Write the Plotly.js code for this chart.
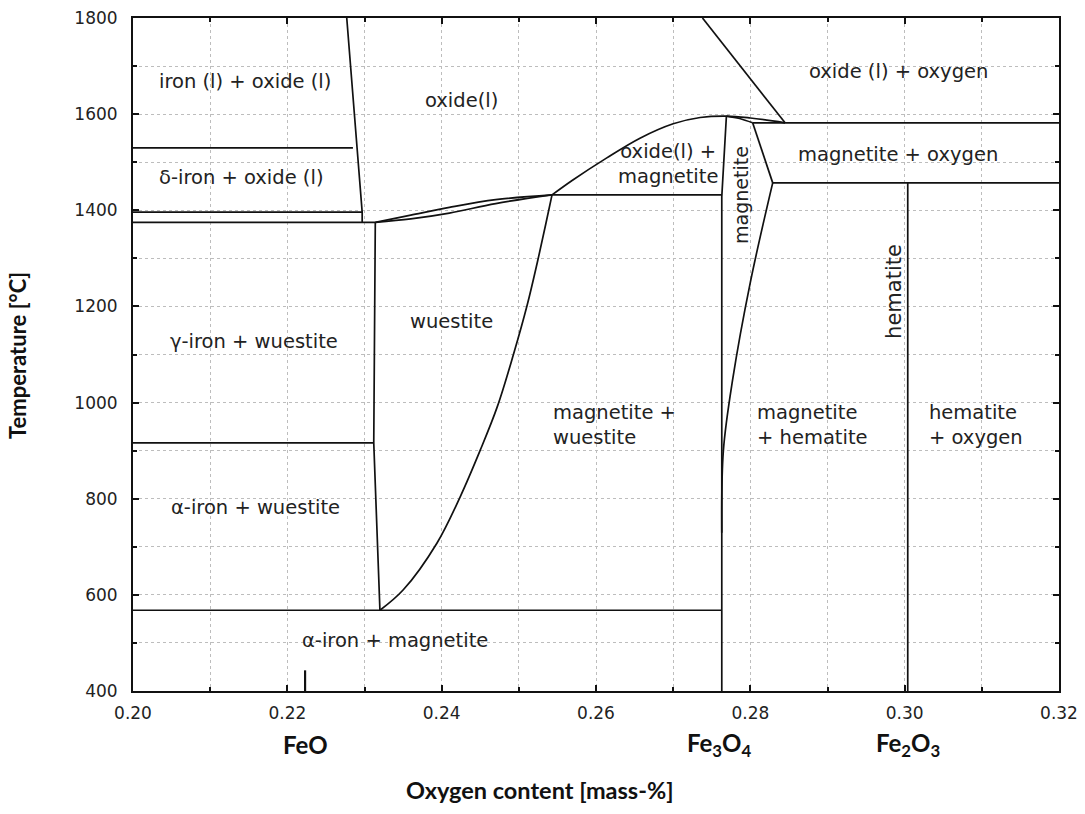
<!DOCTYPE html>
<html>
<head>
<meta charset="utf-8">
<script src="https://cdn.plot.ly/plotly-3.0.1.min.js"></script>
<style>html,body{margin:0;padding:0;background:#fff;}#chart{width:1085px;height:814px;}</style>
</head>
<body>
<div id="chart"></div>
<script>
// ---- Phase boundary data (oxygen mass fraction, temperature °C) ----
const liqLeftX = [0.2277, 0.2297, 0.2297];
const liqLeftT = [1800, 1396, 1375];
const h1530X = [0.20, 0.2285];
const h1530T = [1530, 1530];
const h1396X = [0.20, 0.2297];
const h1396T = [1396, 1396];
const h1375X = [0.20, 0.2314];
const h1375T = [1375, 1375];
const wusLeftX = [0.2314, 0.2312, 0.2320];
const wusLeftT = [1375, 916, 568];
const h916X = [0.20, 0.2312];
const h916T = [916, 916];
const h568X = [0.20, 0.2763];
const h568T = [568, 568];
const wusRightX = [0.2320, 0.2350, 0.2394, 0.2424, 0.2450, 0.2472, 0.2493, 0.2511, 0.2524, 0.2535, 0.2543];
const wusRightT = [568, 610, 708, 804, 901, 991, 1100, 1204, 1292, 1372, 1432];
const lensUpX = [0.2314, 0.2360, 0.2410, 0.2470, 0.2543];
const lensUpT = [1375, 1390, 1406, 1422, 1432];
const lensLoX = [0.2314, 0.2360, 0.2410, 0.2470, 0.2543];
const lensLoT = [1375, 1382, 1394, 1414, 1432];
const humpX = [0.2543, 0.2570, 0.2614, 0.2657, 0.2700, 0.2735, 0.2769, 0.2800, 0.2845];
const humpT = [1432, 1463, 1509, 1550, 1580, 1593, 1596, 1592, 1582];
const lensRX = [0.2769, 0.2786, 0.2803];
const lensRT = [1596, 1591, 1582];
const magRightUpX = [0.2803, 0.2829];
const magRightUpT = [1582, 1457];
const magRightLoX = [0.2829, 0.2800, 0.2777, 0.2765, 0.2763];
const magRightLoT = [1457, 1250, 1047, 899, 729];
const magLeftX = [0.2769, 0.2763, 0.2763];
const magLeftT = [1596, 1428, 400];
const h1582X = [0.2803, 0.32];
const h1582T = [1582, 1582];
const h1457X = [0.2829, 0.32];
const h1457T = [1457, 1457];
const h1432X = [0.2543, 0.2763];
const h1432T = [1432, 1432];
const diagX = [0.2738, 0.2845];
const diagT = [1800, 1582];
const hematiteX = [0.3004, 0.3004];
const hematiteT = [1457, 400];
const feoMarkX = [0.2223, 0.2223];
const feoMarkT = [400, 443];

// ---- Region labels ----
const labelText = ["iron (l) + oxide (l)", "δ-iron + oxide (l)", "oxide(l)", "oxide (l) + oxygen",
  "oxide(l) +<br>magnetite", "magnetite + oxygen", "wuestite", "γ-iron + wuestite",
  "α-iron + wuestite", "α-iron + magnetite"];
const labelX = [0.2145, 0.2140, 0.2426, 0.2992, 0.2693, 0.2991, 0.2413, 0.2157, 0.2159, 0.2339];
const labelT = [1667, 1469, 1629, 1688, 1496, 1517, 1168, 1128, 781, 506];
const leftLabelText = ["magnetite +<br>wuestite", "magnetite<br>+ hematite", "hematite<br>+ oxygen"];
const leftLabelX = [0.2542, 0.2806, 0.3029];
const leftLabelT = [953, 953, 953];
const vertLabelText = ["magnetite", "hematite"];
const vertLabelX = [0.2788, 0.2986];
const vertLabelT = [1432, 1232];
const vertLabelSize = [19, 21];
const compoundText = ["FeO", "Fe<sub>3</sub>O<sub>4</sub>", "Fe<sub>2</sub>O<sub>3</sub>"];
const compoundX = [0.2223, 0.2760, 0.3004];

const lineSets = [
  [liqLeftX, liqLeftT, 'linear'], [h1530X, h1530T, 'linear'], [h1396X, h1396T, 'linear'],
  [h1375X, h1375T, 'linear'], [wusLeftX, wusLeftT, 'linear'], [h916X, h916T, 'linear'],
  [h568X, h568T, 'linear'], [wusRightX, wusRightT, 'spline'], [lensUpX, lensUpT, 'spline'],
  [lensLoX, lensLoT, 'spline'], [humpX, humpT, 'spline'], [lensRX, lensRT, 'spline'],
  [magRightUpX, magRightUpT, 'linear'], [magRightLoX, magRightLoT, 'spline'],
  [magLeftX, magLeftT, 'linear'], [h1582X, h1582T, 'linear'], [h1457X, h1457T, 'linear'],
  [h1432X, h1432T, 'linear'], [diagX, diagT, 'linear'], [hematiteX, hematiteT, 'linear']
];

const traces = lineSets.map(s => ({
  type: 'scatter', mode: 'lines', x: s[0], y: s[1],
  line: {color: '#111', width: 1.7, shape: s[2], smoothing: 1.0},
  hoverinfo: 'skip', showlegend: false
}));
traces.push({type: 'scatter', mode: 'lines', x: feoMarkX, y: feoMarkT,
  line: {color: '#111', width: 2.2}, hoverinfo: 'skip', showlegend: false});

const labelFont = {family: 'DejaVu Sans, Arial, sans-serif', size: 19.5, color: '#222'};
const boldFont = {family: 'Lato, Calibri, sans-serif', size: 24, color: '#111', weight: 'bold'};

const annotations = [];
labelText.forEach((t, i) => annotations.push({x: labelX[i], y: labelT[i], xref: 'x', yref: 'y',
  text: t, showarrow: false, font: labelFont, xanchor: 'center', yanchor: 'middle', align: 'center'}));
leftLabelText.forEach((t, i) => annotations.push({x: leftLabelX[i], y: leftLabelT[i], xref: 'x', yref: 'y',
  text: t, showarrow: false, font: labelFont, xanchor: 'left', yanchor: 'middle', align: 'left'}));
vertLabelText.forEach((t, i) => annotations.push({x: vertLabelX[i], y: vertLabelT[i], xref: 'x', yref: 'y',
  text: t, showarrow: false, font: Object.assign({}, labelFont, {size: vertLabelSize[i]}),
  textangle: -90, xanchor: 'center', yanchor: 'middle'}));
compoundText.forEach((t, i) => annotations.push({x: compoundX[i], y: -0.079, xref: 'x', yref: 'paper',
  text: '<b>' + t + '</b>', showarrow: false, font: boldFont, xanchor: 'center', yanchor: 'middle'}));
annotations.push({x: 0.4395, y: -0.147, xref: 'paper', yref: 'paper', text: '<b>Oxygen content [mass-%]</b>',
  showarrow: false, font: Object.assign({}, boldFont, {size: 23.5}), xanchor: 'center', yanchor: 'middle'});
annotations.push({x: -0.1242, y: 0.4993, xref: 'paper', yref: 'paper', text: '<b>Temperature [°C]</b>',
  showarrow: false, font: Object.assign({}, boldFont, {size: 22}), textangle: -90, xanchor: 'center', yanchor: 'middle'});

const tickFont = {family: 'DejaVu Sans, Arial, sans-serif', size: 17, color: '#222'};
const gridCol = '#bdbdbd';

const layout = {
  width: 1085, height: 814,
  margin: {l: 133, r: 26, t: 18, b: 123, pad: 0},
  paper_bgcolor: '#fff', plot_bgcolor: '#fff',
  showlegend: false,
  xaxis: {
    range: [0.20, 0.32], dtick: 0.02, tick0: 0.20, tickformat: '.2f',
    ticks: 'inside', ticklen: 6, tickwidth: 2, tickcolor: '#111',
    showline: true, linecolor: '#111', linewidth: 2, mirror: 'ticks',
    showgrid: true, gridcolor: gridCol, griddash: 'dot', gridwidth: 1,
    minor: {dtick: 0.01, ticks: 'inside', ticklen: 4, tickwidth: 2, tickcolor: '#111',
            showgrid: true, gridcolor: gridCol, griddash: 'dot', gridwidth: 1},
    zeroline: false, tickfont: tickFont, ticklabelstandoff: 6, fixedrange: true
  },
  yaxis: {
    range: [400, 1800], dtick: 200, tick0: 400,
    ticks: 'inside', ticklen: 6, tickwidth: 2, tickcolor: '#111',
    showline: true, linecolor: '#111', linewidth: 2, mirror: 'ticks',
    showgrid: true, gridcolor: gridCol, griddash: 'dot', gridwidth: 1,
    minor: {dtick: 100, ticks: 'inside', ticklen: 4, tickwidth: 2, tickcolor: '#111',
            showgrid: true, gridcolor: gridCol, griddash: 'dot', gridwidth: 1},
    zeroline: false, tickfont: tickFont, ticklabelstandoff: 10, fixedrange: true
  },
  annotations: annotations
};

Plotly.newPlot('chart', traces, layout, {displayModeBar: false, staticPlot: true});
</script>
</body>
</html>
